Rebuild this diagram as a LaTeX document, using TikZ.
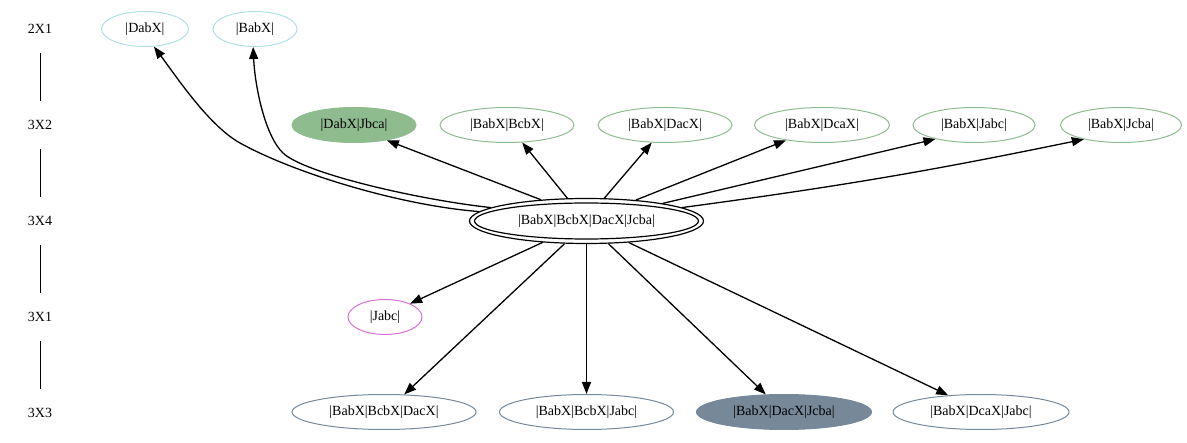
\documentclass[tikz,border=0pt]{standalone}
\usepackage{fontspec}
\setmainfont{Liberation Serif}
\usetikzlibrary{arrows.meta,shapes.geometric}
\definecolor{pblue}{HTML}{B0E0E6}
\definecolor{dsgreen}{HTML}{8FBC8F}
\definecolor{orchidc}{HTML}{DA70D6}
\definecolor{lsgray}{HTML}{778899}
\begin{document}
\begin{tikzpicture}[x=1pt,y=-1pt,
  every node/.style={font=\fontsize{14}{16}\selectfont},
  nd/.style={ellipse,draw,inner sep=0pt,line width=1pt,minimum height=35pt},
  rank/.style={inner sep=0pt,minimum height=48pt},
  edg/.style={line width=1.3pt,-{Triangle[length=12pt,width=9pt]}},
  rankline/.style={line width=1pt},
  ]
\useasboundingbox (0,0) rectangle (1187,443);
% rank labels
\node[rank] (r1) at (40,29) {2X1};
\node[rank] (r2) at (40,125) {3X2};
\node[rank] (r3) at (40,221) {3X4};
\node[rank] (r4) at (40,317) {3X1};
\node[rank] (r5) at (40,413) {3X3};
\draw[rankline] (r1) -- (r2);
\draw[rankline] (r2) -- (r3);
\draw[rankline] (r3) -- (r4);
\draw[rankline] (r4) -- (r5);
% row 2X1
\node[nd,draw=pblue,minimum width=87pt] (dabx) at (145,29) {|DabX|};
\node[nd,draw=pblue,minimum width=84pt] (babx) at (255,29) {|BabX|};
% row 3X2
\node[nd,draw=dsgreen,fill=dsgreen,minimum width=124pt] (jbca) at (354,125) {|DabX|Jbca|};
\node[nd,draw=dsgreen,minimum width=134pt] (bcbx) at (507,125) {|BabX|BcbX|};
\node[nd,draw=dsgreen,minimum width=134pt] (dacx) at (665,125) {|BabX|DacX|};
\node[nd,draw=dsgreen,minimum width=135pt] (dcax) at (822,125) {|BabX|DcaX|};
\node[nd,draw=dsgreen,minimum width=122pt] (jabcb) at (974,125) {|BabX|Jabc|};
\node[nd,draw=dsgreen,minimum width=121pt] (jcba) at (1121,125) {|BabX|Jcba|};
% center
\node[nd,line width=1.2pt,minimum width=234pt,minimum height=45pt] (c) at (586.5,221) {|BabX|BcbX|DacX|Jcba|};
\draw[line width=1.2pt] (c.center) ellipse [x radius=112pt, y radius=18pt];
% row 3X1
\node[nd,draw=orchidc,minimum width=74pt] (jabc) at (385,317) {|Jabc|};
% row 3X3
\node[nd,draw=lsgray,minimum width=184pt] (bbd) at (384,412) {|BabX|BcbX|DacX|};
\node[nd,draw=lsgray,minimum width=174pt] (bbj) at (586.5,412) {|BabX|BcbX|Jabc|};
\node[nd,draw=lsgray,fill=lsgray,minimum width=175pt] (bdj) at (784,412) {|BabX|DacX|Jcba|};
\node[nd,draw=lsgray,minimum width=176pt] (bdcj) at (981,412) {|BabX|DcaX|Jabc|};
% edges up
\draw[edg] (c.175.8) .. controls (397,205) and (292,172) .. (240,143)
  .. controls (209.5,126) and (178,79) .. (dabx.-63);
\draw[edg] (c.172.4) .. controls (420,200) and (304.6,173.7) .. (283,153)
  .. controls (265,135.7) and (255,87) .. (babx.-96);
\draw[edg] (c.155.5) -- (jbca.-25.2);
\draw[edg] (c.130.8) -- (bcbx.-49.4);
\draw[edg] (c.52.3) -- (dacx.233.4);
\draw[edg] (c.23.6) -- (dcax.203.2);
\draw[edg] (c.13.1) -- (jabcb.200);
\draw[edg] (c.8) to[bend right=2] (jcba.201.5);
% edges down
\draw[edg] (c.206.6) -- (jabc.28);
\draw[edg] (c.226.3) -- (bbd.41.6);
\draw[edg] (c.270) -- (bbj.90);
\draw[edg] (c.-46.3) -- (bdj.136.7);
\draw[edg] (c.-27.7) -- (bdcj.153.7);
\end{tikzpicture}
\end{document}
